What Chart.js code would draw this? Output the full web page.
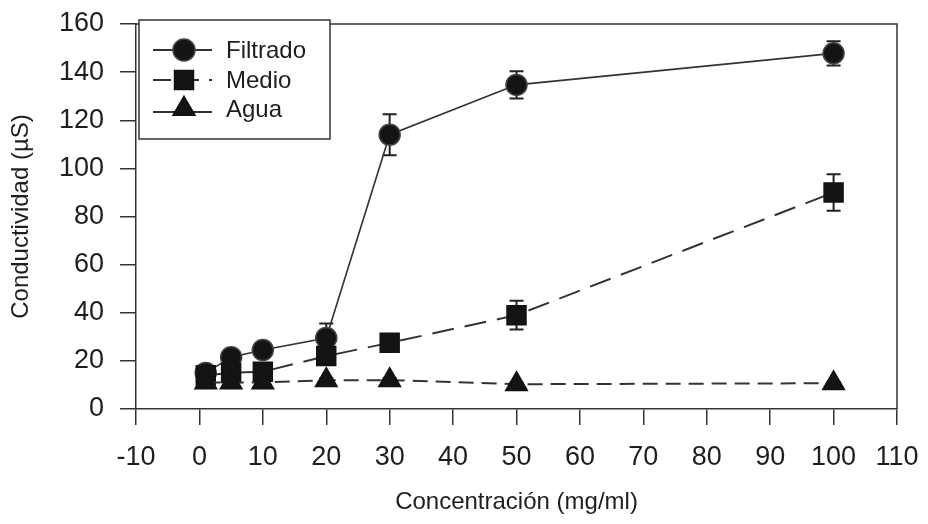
<!DOCTYPE html>
<html><head><meta charset="utf-8">
<script src="https://cdn.jsdelivr.net/npm/chart.js@4"></script>
<style>html,body{margin:0;padding:0;background:#fff}#wrap{width:928px;height:524px;position:relative}</style>
</head><body><div id="wrap"><canvas id="c"></canvas></div>
<script>
// ---- data ----
const concentracion = [1, 5, 10, 20, 30, 50, 100];
const filtrado      = [15, 21.5, 24.5, 29.5, 114, 134.7, 147.8];
const filtradoErr   = [1.5, 1.5, 1.5, 6, 8.5, 5.7, 5];
const medio         = [14, 15, 15.5, 22, 27.5, 39, 90];
const medioErr      = [1, 1, 1.5, 2, 1.5, 6, 7.6];
const agua          = [11, 11, 11, 12, 12, 10.3, 10.7];
const aguaErr       = [0.5, 0.5, 0.5, 0.8, 0.8, 0.5, 0.5];
const seriesNames   = ['Filtrado', 'Medio', 'Agua'];
const xTitle = 'Concentración (mg/ml)';
const yTitle = 'Conductividad (µS)';
const xMin = -10, xMax = 110, xStep = 10;
const yMin = 0, yMax = 160, yStep = 20;

const FONT = "'Liberation Sans', Arial, sans-serif";
const INK = '#1e1e1e';
const toPts = (ys) => concentracion.map((x, i) => ({x, y: ys[i]}));
const errs = [filtradoErr, medioErr, aguaErr];

const styles = [
  {pointStyle: 'circle', radius: 10.5, dash: [], lw: 1.6, pbc: '#444'},
  {pointStyle: 'rect', radius: 13.4, dash: [22, 11], lw: 2, pbc: '#111'},
  {pointStyle: 'triangle', radius: 12.5, dash: [15, 8], lw: 2, pbc: '#111'}
];
const datasets = [filtrado, medio, agua].map((ys, i) => ({
  label: seriesNames[i],
  data: toPts(ys),
  showLine: true,
  borderColor: '#333',
  borderWidth: styles[i].lw,
  borderDash: styles[i].dash,
  pointStyle: styles[i].pointStyle,
  pointRadius: styles[i].radius,
  pointHoverRadius: styles[i].radius,
  pointBackgroundColor: '#141414',
  pointBorderColor: styles[i].pbc,
  pointBorderWidth: 1.5,
  tension: 0,
  order: 3 - i
}));

const errorBars = {
  id: 'errorBars',
  beforeDatasetsDraw(chart) {
    const {ctx, scales: {x, y}} = chart;
    ctx.save();
    ctx.strokeStyle = '#222';
    ctx.lineWidth = 2;
    ctx.setLineDash([]);
    [filtrado, medio, agua].forEach((ys, d) => {
      ys.forEach((v, i) => {
        const e = errs[d][i];
        const px = x.getPixelForValue(concentracion[i]);
        const yt = y.getPixelForValue(v + e), yb = y.getPixelForValue(v - e);
        ctx.beginPath();
        ctx.moveTo(px, yt); ctx.lineTo(px, yb);
        ctx.moveTo(px - 7, yt); ctx.lineTo(px + 7, yt);
        ctx.moveTo(px - 7, yb); ctx.lineTo(px + 7, yb);
        ctx.stroke();
      });
    });
    ctx.restore();
  }
};

const frame = {
  id: 'frame',
  afterDraw(chart) {
    const {ctx, chartArea: a} = chart;
    ctx.save();
    ctx.strokeStyle = '#333';
    ctx.lineWidth = 1.5;
    ctx.beginPath();
    ctx.moveTo(a.left, a.top); ctx.lineTo(a.right, a.top); ctx.lineTo(a.right, a.bottom);
    ctx.stroke();
    // legend box
    const bx = 139, by = 20, bw = 191, bh = 119;
    ctx.fillStyle = '#fff';
    ctx.fillRect(bx, by, bw, bh);
    ctx.strokeStyle = '#333';
    ctx.lineWidth = 1.5;
    ctx.strokeRect(bx, by, bw, bh);
    const rows = [50, 80, 109];
    const legR = [11, 13.4, 12.7];
    seriesNames.forEach((name, i) => {
      const yy = rows[i];
      ctx.strokeStyle = '#333';
      ctx.lineWidth = 2;
      ctx.setLineDash(i === 1 ? [18, 10] : []);
      ctx.beginPath();
      ctx.moveTo(153, yy + (i === 2 ? 3 : 0)); ctx.lineTo(212, yy + (i === 2 ? 3 : 0));
      ctx.stroke();
      ctx.setLineDash([]);
      ctx.fillStyle = '#141414';
      ctx.strokeStyle = styles[i].pbc;
      ctx.lineWidth = 1.5;
      Chart.helpers.drawPoint(ctx, {pointStyle: styles[i].pointStyle, radius: legR[i], rotation: 0, borderWidth: 1.5}, 184, yy);
      ctx.fillStyle = INK;
      ctx.font = "24px " + FONT;
      ctx.textBaseline = 'middle';
      ctx.textAlign = 'left';
      ctx.fillText(name, 226, yy + 1);
    });
    ctx.restore();
  }
};

const zeroPad = s => { s.paddingTop = 0; s.paddingBottom = 0; s.paddingLeft = 0; s.paddingRight = 0; };

new Chart(document.getElementById('c'), {
  type: 'scatter',
  data: {datasets},
  options: {
    responsive: true,
    maintainAspectRatio: false,
    animation: false,
    layout: {padding: {left: 0, right: 31, top: 24, bottom: 0}},
    plugins: {legend: {display: false}, tooltip: {enabled: false}},
    scales: {
      x: {
        type: 'linear', min: xMin, max: xMax,
        afterFit: s => { s.height = 115; zeroPad(s); },
        border: {color: '#333', width: 1.5},
        grid: {drawOnChartArea: false, drawTicks: true, tickLength: 16, color: '#333', lineWidth: 1.5},
        ticks: {stepSize: xStep, autoSkip: false, maxRotation: 0, padding: 16, color: INK, font: {family: FONT, size: 27}},
        title: {display: true, text: xTitle, color: INK, font: {family: FONT, size: 24}, padding: {top: 7, bottom: 7}}
      },
      y: {
        type: 'linear', min: yMin, max: yMax,
        afterFit: s => { s.width = 136; zeroPad(s); },
        border: {color: '#333', width: 1.5},
        grid: {drawOnChartArea: false, drawTicks: true, tickLength: 16, color: '#333', lineWidth: 1.5},
        ticks: {stepSize: yStep, padding: 16, color: INK, font: {family: FONT, size: 27}},
        title: {display: true, text: yTitle, color: INK, font: {family: FONT, size: 24}, padding: {top: 7, bottom: 7}}
      }
    }
  },
  plugins: [errorBars, frame]
});
</script>
</body></html>
